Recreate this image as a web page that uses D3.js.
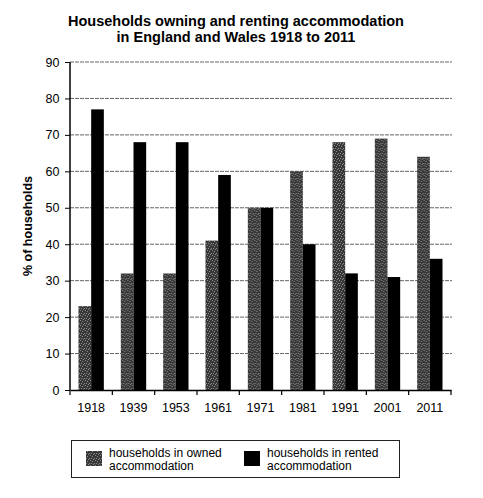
<!DOCTYPE html>
<html>
<head>
<meta charset="utf-8">
<script src="https://cdn.jsdelivr.net/npm/d3@7"></script>
<style>
  body { margin: 0; background: #fff; }
  text { font-family: "Liberation Sans", Arial, sans-serif; }
</style>
</head>
<body>
<div id="chart"></div>
<script>
// datos
const years = ['1918', '1939', '1953', '1961', '1971', '1981', '1991', '2001', '2011'];
const owned = [23, 32, 32, 41, 50, 60, 68, 69, 64];
const rented = [77, 68, 68, 59, 50, 40, 32, 31, 36];
const yTicks = [0, 10, 20, 30, 40, 50, 60, 70, 80, 90];
const seriesNames = ['owned', 'rented'];

const width = 483;
const height = 498;
const margin = { left: 70, right: 32, top: 62, bottom: 108 };

const svg = d3.select('#chart').append('svg')
  .attr('width', width)
  .attr('height', height);

// textura punteada para "owned"
const defs = svg.append('defs');
const pat = defs.append('pattern')
  .attr('id', 'stipple')
  .attr('width', 5).attr('height', 5)
  .attr('patternUnits', 'userSpaceOnUse');
pat.append('rect').attr('width', 5).attr('height', 5).attr('fill', '#383838');
[[0, 0], [2, 1], [4, 3], [1, 3], [3, 4]].forEach(([px, py]) => {
  pat.append('rect').attr('x', px).attr('y', py).attr('width', 1).attr('height', 1).attr('fill', '#8a8a8a');
});

const x = d3.scaleBand()
  .domain(years)
  .range([margin.left, width - margin.right]);

const xInner = d3.scaleBand()
  .domain(seriesNames)
  .range([0, x.bandwidth()])
  .paddingOuter(0.67)
  .paddingInner(0);

const y = d3.scaleLinear()
  .domain([0, 90])
  .range([height - margin.bottom, margin.top]);

// lineas de cuadricula
svg.append('g')
  .selectAll('line')
  .data(yTicks.filter(d => d > 0))
  .enter().append('line')
  .attr('x1', margin.left)
  .attr('x2', width - margin.right + 1)
  .attr('y1', d => y(d))
  .attr('y2', d => y(d))
  .attr('stroke', '#555')
  .attr('stroke-width', 0.9)
  .attr('stroke-dasharray', '4,1');

// barras
const groups = svg.append('g')
  .selectAll('g')
  .data(years)
  .enter().append('g')
  .attr('transform', d => `translate(${x(d)},0)`);

groups.append('rect')
  .attr('x', xInner('owned'))
  .attr('width', xInner.bandwidth())
  .attr('y', (d, i) => y(owned[i]))
  .attr('height', (d, i) => y(0) - y(owned[i]))
  .attr('fill', 'url(#stipple)');

groups.append('rect')
  .attr('x', xInner('rented'))
  .attr('width', xInner.bandwidth())
  .attr('y', (d, i) => y(rented[i]))
  .attr('height', (d, i) => y(0) - y(rented[i]))
  .attr('fill', '#000');

// ejes
const yAxis = d3.axisLeft(y).tickValues(yTicks).tickSize(5).tickPadding(5.5);
const gy = svg.append('g')
  .attr('transform', `translate(${margin.left},0)`)
  .call(yAxis);
gy.select('.domain').attr('d', `M0,${y(90)}V${y(0)}`).attr('stroke-width', 1.5);
gy.selectAll('text').attr('font-size', 12.5).attr('fill', '#000')
  .style('font-family', '"Liberation Sans", Arial, sans-serif');

const xAxis = d3.axisBottom(x).tickSize(0).tickPadding(13);
const gx = svg.append('g')
  .attr('transform', `translate(0,${y(0)})`)
  .call(xAxis);
gx.select('.domain').attr('stroke-width', 1.5);
gx.selectAll('text').attr('font-size', 12.5).attr('fill', '#000')
  .style('font-family', '"Liberation Sans", Arial, sans-serif');

// marcas entre categorias
svg.append('g')
  .selectAll('line')
  .data(years.concat(['end']))
  .enter().append('line')
  .attr('x1', (d, i) => margin.left + i * x.bandwidth())
  .attr('x2', (d, i) => margin.left + i * x.bandwidth())
  .attr('y1', y(0))
  .attr('y2', y(0) + 5)
  .attr('stroke', '#000')
  .attr('stroke-width', 1.2);

// titulo
const title = svg.append('text')
  .attr('x', 236)
  .attr('y', 26)
  .attr('text-anchor', 'middle')
  .attr('font-size', 14.5)
  .attr('font-weight', 'bold');
title.append('tspan').attr('x', 236).text('Households owning and renting accommodation');
title.append('tspan').attr('x', 236).attr('dy', 16).text('in England and Wales 1918 to 2011');

// etiqueta eje y
svg.append('text')
  .attr('transform', `translate(32,226) rotate(-90)`)
  .attr('text-anchor', 'middle')
  .attr('font-size', 12.5)
  .attr('font-weight', 'bold')
  .text('% of households');

// leyenda
const legend = svg.append('g');
legend.append('rect')
  .attr('x', 71.5).attr('y', 440.5)
  .attr('width', 328).attr('height', 37)
  .attr('fill', 'none')
  .attr('stroke', '#222')
  .attr('stroke-width', 1);

const legendItems = [
  { fill: 'url(#stipple)', x: 86, lines: ['households in owned', 'accommodation'] },
  { fill: '#000', x: 244, lines: ['households in rented', 'accommodation'] }
];
legendItems.forEach(item => {
  legend.append('rect')
    .attr('x', item.x).attr('y', 451)
    .attr('width', 16).attr('height', 15)
    .attr('fill', item.fill);
  const t = legend.append('text')
    .attr('x', item.x + 23)
    .attr('y', 457)
    .attr('font-size', 12);
  t.append('tspan').attr('x', item.x + 23).text(item.lines[0]);
  t.append('tspan').attr('x', item.x + 23).attr('dy', 12.5).text(item.lines[1]);
});
</script>
</body>
</html>
